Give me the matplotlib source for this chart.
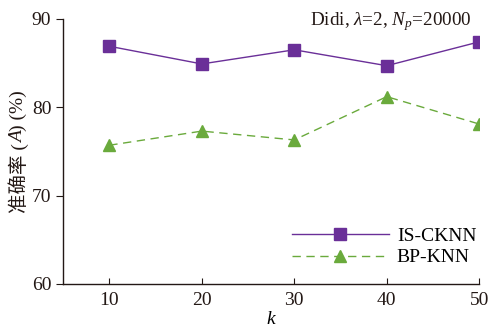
import matplotlib
matplotlib.use("Agg")
import matplotlib.pyplot as plt

k = [10, 20, 30, 40, 50]
is_ckn = [86.9, 84.9, 86.5, 84.7, 87.4]
bp_knn = [75.7, 77.3, 76.3, 81.2, 78.1]
xticks = [10, 20, 30, 40, 50]
yticks = [60, 70, 80, 90]

plt.rcParams['font.family'] = ['Liberation Serif', 'Noto Sans CJK SC']
plt.rcParams['mathtext.fontset'] = 'custom'
plt.rcParams['mathtext.rm'] = 'Liberation Serif'
plt.rcParams['mathtext.it'] = 'Liberation Serif:italic'

fig = plt.figure(figsize=(4.89, 3.31), dpi=100)
ax = fig.add_axes([0.129, 0.142, 0.851, 0.801])

purple = '#6a2f98'
green = '#6aaa3c'
ax.plot(k, is_ckn, color=purple, lw=1.0, marker='s', ms=9, label='IS-CKNN')
ax.plot(k, bp_knn, color=green, lw=1.0, ls=(0, (6, 4)), marker='^', ms=9, label='BP-KNN')

ax.set_xlim(5, 50)
ax.set_ylim(60, 90)
ax.set_xticks(xticks)
ax.set_yticks(yticks)
ax.tick_params(axis='x', direction='in', labelsize=14, length=4, pad=6, colors='#231815')
ax.tick_params(axis='y', direction='out', labelsize=14, length=5, colors='#231815')
for s in ['top', 'right']:
    ax.spines[s].set_visible(False)
for s in ['left', 'bottom']:
    ax.spines[s].set_color('#231815')
    ax.spines[s].set_linewidth(1.0)

ax.set_xlabel('$k$', fontsize=14, labelpad=1)

# y label built from pieces so the CJK text and italic A can both be shown
fs = 14
xl = -0.108
t1 = ax.text(xl, 0.5, '准确率 (', transform=ax.transAxes, rotation=90,
             ha='center', va='center', fontsize=fs,
             family=['Liberation Serif', 'Noto Sans CJK SC'], color='#231815')
t2 = ax.annotate('A', xy=(0.5, 1.0), xycoords=t1, rotation=90, ha='center', va='bottom',
                 fontsize=fs, fontstyle='italic', family='Liberation Serif', color='#231815')
t3 = ax.annotate(') (%)', xy=(0.5, 1.0), xycoords=t2, rotation=90, ha='center', va='bottom',
                 fontsize=fs, family='Liberation Serif', color='#231815')
fig.canvas.draw()
r = fig.canvas.get_renderer()
b1 = t1.get_window_extent(r)
b3 = t3.get_window_extent(r)
total = b3.y1 - b1.y0
axbb = ax.get_window_extent(r)
center = (axbb.y0 + axbb.y1) / 2
new_center1 = center - total / 2 + b1.height / 2
_, y_ax = ax.transAxes.inverted().transform((0, new_center1))
t1.set_position((xl, y_ax))

ax.text(0.982, 0.977, r'Didi, $\lambda$=2, $N_p$=20000', transform=ax.transAxes,
        ha='right', va='baseline', fontsize=13.8, color='#231815')
ax.legend(loc='lower right', bbox_to_anchor=(1.035, 0.0), frameon=False, fontsize=14,
          handlelength=5.0, handletextpad=0.4, labelspacing=0.2)

fig.savefig('out.png', dpi=100)
